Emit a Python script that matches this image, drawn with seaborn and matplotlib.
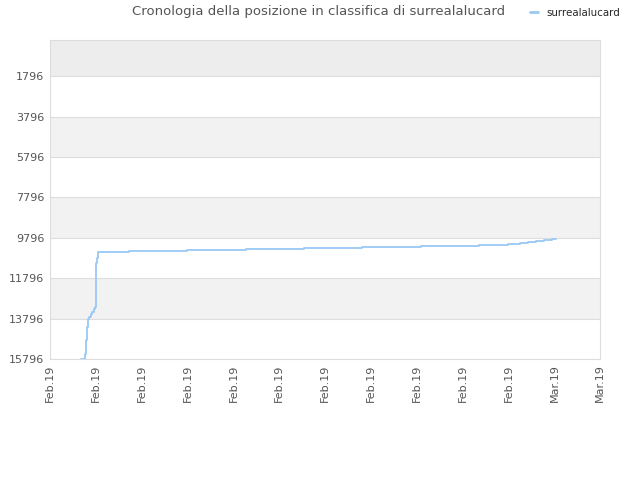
import pandas as pd
import matplotlib
matplotlib.use("Agg")
import matplotlib.pyplot as plt
import matplotlib.dates as mdates
import seaborn as sns

player = "surrealalucard"
title = "Cronologia della posizione in classifica di surrealalucard"

times = ["2019-02-06 14:00", "2019-02-06 18:40", "2019-02-06 19:40", "2019-02-06 20:40",
         "2019-02-06 22:20", "2019-02-07 00:00", "2019-02-07 02:00", "2019-02-07 03:30",
         "2019-02-07 05:20", "2019-02-07 07:00", "2019-02-07 08:10", "2019-02-07 09:10",
         "2019-02-07 11:00", "2019-02-09 00:00", "2019-02-11 23:30", "2019-02-14 23:30",
         "2019-02-17 22:20", "2019-02-20 21:20", "2019-02-23 21:20", "2019-02-26 20:10",
         "2019-02-28 07:40", "2019-02-28 12:30", "2019-02-28 22:20", "2019-03-01 08:10",
         "2019-03-01 18:00", "2019-03-02 03:40", "2019-03-02 13:30", "2019-03-02 18:00"]
ranks = [15790, 15550, 14860, 14200,
         13830, 13700, 13580, 13460,
         13340, 13220, 11030, 10800,
         10513, 10463, 10404, 10350,
         10300, 10250, 10200, 10150,
         10120, 10100, 10050, 10000,
         9950, 9900, 9850, 9850]

y_ticks = [1796, 3796, 5796, 7796, 9796, 11796, 13796, 15796]
x_start, x_end = "2019-02-05", "2019-03-05"

df = pd.DataFrame({"data": pd.to_datetime(times), "posizione": ranks})

sns.set_style("white")
plt.rcParams['font.family'] = ['DejaVu Sans']

fig = plt.figure(figsize=(6.4, 4.8), dpi=100)
ax = fig.add_axes([0.078, 0.252, 0.86, 0.665])

# striped background
ax.axhspan(0, y_ticks[0], color="#ededed", zorder=0, lw=0)
for i in range(1, len(y_ticks) - 1, 2):
    ax.axhspan(y_ticks[i], y_ticks[i + 1], color="#f2f2f2", zorder=0, lw=0)

sns.lineplot(data=df, x="data", y="posizione", ax=ax, color="#99c9f5",
             linewidth=1.3, drawstyle="steps-post", estimator=None, zorder=3)

ax.set_ylim(y_ticks[-1], 0)
ax.set_yticks(y_ticks)
ax.set_yticklabels([str(v) for v in y_ticks])
ticks = pd.date_range(x_start, x_end, periods=13)
ax.set_xlim(ticks[0], ticks[-1])
ax.set_xticks(ticks)
ax.xaxis.set_major_formatter(mdates.DateFormatter("%b.%y"))
ax.tick_params(axis="x", rotation=90)
ax.tick_params(labelsize=8, colors="#555555", length=0, pad=4)
ax.yaxis.grid(True, color="#dddddd", linewidth=0.8)
ax.set_axisbelow(True)
ax.set_xlabel("")
ax.set_ylabel("")
for s in ax.spines.values():
    s.set_color("#dddddd")
    s.set_linewidth(0.8)

fig.text(0.497, 0.975, title, ha="center", va="center", fontsize=9.5, color="#555555")
fig.legend(handles=[plt.Line2D([], [], color="#99c9f5", lw=2)], labels=[player],
           loc="center left", bbox_to_anchor=(0.813, 0.973), frameon=False,
           fontsize=7.4, handlelength=0.8, handletextpad=0.8)

fig.savefig("out.png", dpi=100)
